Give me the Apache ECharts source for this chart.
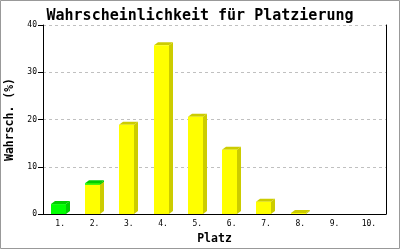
<!DOCTYPE html>
<html>
<head>
<meta charset="utf-8">
<script src="https://cdn.jsdelivr.net/npm/echarts@6/dist/echarts.min.js"></script>
<style>
html,body{margin:0;padding:0;background:#fff;}
#c{width:400px;height:250px;}
</style>
</head>
<body>
<div id="c"></div>
<script>
// ---- data ----
const categories = ['1.', '2.', '3.', '4.', '5.', '6.', '7.', '8.', '9.', '10.'];
const yellowValues = [0, 6.2, 18.9, 35.7, 20.6, 13.6, 2.6, 0.2, 0, 0];
const greenValues  = [2.1, 0.3, 0, 0, 0, 0, 0, 0, 0, 0];
const yTicks = [0, 10, 20, 30, 40];
const titleText = 'Wahrscheinlichkeit für Platzierung';
const xName = 'Platz';
const yName = 'Wahrsch. (%)';

const mono = 'DejaVu Sans Mono';
const yellowData = yellowValues.map((v, i) => [i, 0, v]);
const greenData = greenValues.map((v, i) => [i, yellowValues[i], yellowValues[i] + v]);

function make3D(front, dark) {
  return function (params, api) {
    const cat = api.value(0), base = api.value(1), top = api.value(2);
    if (!(top > base)) return null;
    const p1 = api.coord([cat, top]);
    const p0 = api.coord([cat, base]);
    const w = 15, dx = 4, dy = 3;
    const x = Math.round(p1[0] - (w + dx) / 2);
    const y1 = p1[1], y0 = p0[1];
    return {
      type: 'group',
      children: [
        { type: 'polygon', shape: { points: [[x + w, y1], [x + w + dx, y1 - dy], [x + w + dx, y0 - dy], [x + w, y0]] }, style: { fill: dark } },
        { type: 'polygon', shape: { points: [[x, y1], [x + dx, y1 - dy], [x + w + dx, y1 - dy], [x + w, y1]] }, style: { fill: dark } },
        { type: 'rect', shape: { x: x, y: y1, width: w, height: y0 - y1 }, style: { fill: front } }
      ]
    };
  };
}

const chart = echarts.init(document.getElementById('c'), null, { renderer: 'canvas' });
chart.setOption({
  animation: false,
  backgroundColor: '#ffffff',
  title: {
    text: titleText, left: 'center', top: 4,
    textStyle: { fontFamily: mono, fontSize: 15, fontWeight: 'bold', color: '#000' }
  },
  graphic: [{
    type: 'rect', shape: { x: 0.5, y: 0.5, width: 399, height: 248 },
    style: { fill: 'none', stroke: '#999999', lineWidth: 1 }, silent: true, z: 100
  }],
  grid: { left: 43, right: 14, top: 25, bottom: 36, containLabel: false, outerBoundsMode: 'none' },
  xAxis: {
    type: 'category', data: categories,
    name: xName, nameLocation: 'middle', nameGap: 19,
    nameTextStyle: { fontFamily: mono, fontSize: 11.5, fontWeight: 'bold', color: '#000' },
    axisLine: { lineStyle: { color: '#000', width: 1 } },
    axisTick: { show: false },
    axisLabel: { fontFamily: mono, fontSize: 8, color: '#000', margin: 6 },
    splitLine: { show: false }
  },
  yAxis: [{
    type: 'value', min: yTicks[0], max: yTicks[yTicks.length - 1], interval: 10,
    name: yName, nameLocation: 'middle', nameGap: 23,
    nameTextStyle: { fontFamily: mono, fontSize: 11.5, fontWeight: 'bold', color: '#000' },
    axisLine: { show: true, lineStyle: { color: '#000', width: 1 } },
    axisTick: { show: true, length: 5, lineStyle: { color: '#000' } },
    axisLabel: { fontFamily: mono, fontSize: 8, color: '#000', margin: 6 },
    splitLine: { show: true, lineStyle: { color: '#c0c0c0', type: [3, 3], width: 1 } }
  }, {
    type: 'value', min: yTicks[0], max: yTicks[yTicks.length - 1], interval: 10, position: 'right',
    axisLine: { show: true, lineStyle: { color: '#000', width: 1 } },
    axisTick: { show: false }, axisLabel: { show: false }, splitLine: { show: false }
  }],
  series: [
    { type: 'custom', renderItem: make3D('#ffff00', '#cccc00'), data: yellowData, encode: { x: 0, y: [1, 2] } },
    { type: 'custom', renderItem: make3D('#00ff00', '#00cc00'), data: greenData, encode: { x: 0, y: [1, 2] } }
  ]
});
</script>
</body>
</html>
